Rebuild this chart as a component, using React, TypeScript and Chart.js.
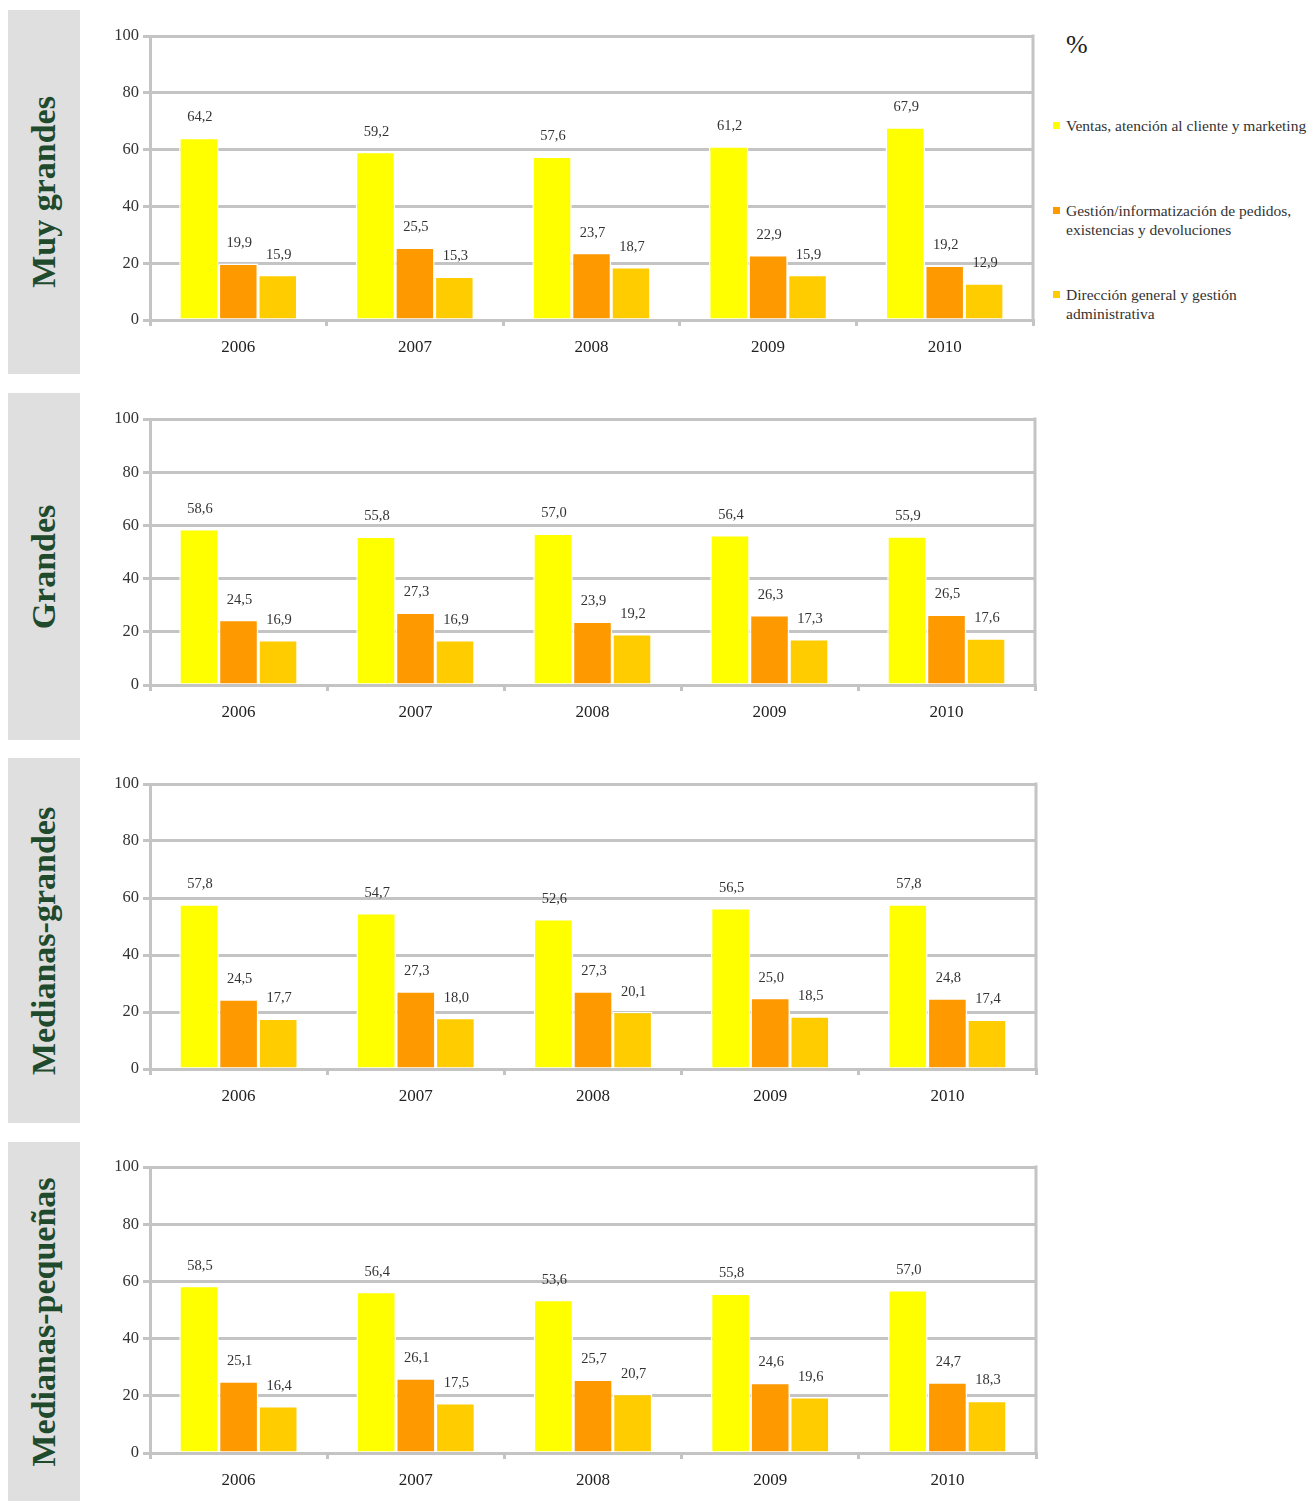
import React, { useEffect, useRef } from "react";
import { Chart, registerables } from "chart.js";

Chart.register(...registerables);

const years = ["2006", "2007", "2008", "2009", "2010"];
const seriesNames = [
  "Ventas, atención al cliente y marketing",
  "Gestión/informatización de pedidos, existencias y devoluciones",
  "Dirección general y gestión administrativa",
];
const legendLines = [
  ["Ventas, atención al cliente y marketing"],
  ["Gestión/informatización de pedidos,", "existencias y devoluciones"],
  ["Dirección general y gestión", "administrativa"],
];
const seriesColors = ["#FFFF00", "#FF9900", "#FFCC00"];
const panelTitles = ["Muy grandes", "Grandes", "Medianas-grandes", "Medianas-pequeñas"];
const yTicks = [0, 20, 40, 60, 80, 100];

const muyGrandesVentas = [64.2, 59.2, 57.6, 61.2, 67.9];
const muyGrandesGestion = [19.9, 25.5, 23.7, 22.9, 19.2];
const muyGrandesDireccion = [15.9, 15.3, 18.7, 15.9, 12.9];

const grandesVentas = [58.6, 55.8, 57.0, 56.4, 55.9];
const grandesGestion = [24.5, 27.3, 23.9, 26.3, 26.5];
const grandesDireccion = [16.9, 16.9, 19.2, 17.3, 17.6];

const medianasGrandesVentas = [57.8, 54.7, 52.6, 56.5, 57.8];
const medianasGrandesGestion = [24.5, 27.3, 27.3, 25.0, 24.8];
const medianasGrandesDireccion = [17.7, 18.0, 20.1, 18.5, 17.4];

const medianasPequenasVentas = [58.5, 56.4, 53.6, 55.8, 57.0];
const medianasPequenasGestion = [25.1, 26.1, 25.7, 24.6, 24.7];
const medianasPequenasDireccion = [16.4, 17.5, 20.7, 19.6, 18.3];

const panelData = [
  [muyGrandesVentas, muyGrandesGestion, muyGrandesDireccion],
  [grandesVentas, grandesGestion, grandesDireccion],
  [medianasGrandesVentas, medianasGrandesGestion, medianasGrandesDireccion],
  [medianasPequenasVentas, medianasPequenasGestion, medianasPequenasDireccion],
];

// layout of each panel (page pixels)
const panelLayout = [
  { top: 10, height: 364, padTop: 26, xH: 54, padRight: 17 },
  { top: 393, height: 347, padTop: 26, xH: 55, padRight: 15 },
  { top: 758, height: 365, padTop: 26, xH: 54, padRight: 14 },
  { top: 1142, height: 359, padTop: 25, xH: 48, padRight: 14 },
];

const FONT = '"Liberation Serif", "Times New Roman", serif';
const GRID = "#c4c4c4";
const CANVAS_LEFT = 86;
const CANVAS_W = 964;
const Y_AXIS_W = 64;

const fmt = (v: number) => v.toFixed(1).replace(".", ",");

const labelsPlugin = {
  id: "barLabels",
  afterDatasetsDraw(chart: any) {
    const ctx = chart.ctx;
    ctx.save();
    ctx.font = `14.5px ${FONT}`;
    ctx.fillStyle = "#333333";
    ctx.textAlign = "center";
    ctx.textBaseline = "middle";
    chart.data.datasets.forEach((ds: any, di: number) => {
      const meta = chart.getDatasetMeta(di);
      meta.data.forEach((el: any, i: number) => {
        ctx.fillText(fmt(ds.data[i]), el.x + 1, el.y - 20);
      });
    });
    ctx.restore();
  },
};

const rightBorderPlugin = {
  id: "rightBorder",
  beforeDatasetsDraw(chart: any) {
    const { ctx, chartArea } = chart;
    ctx.save();
    ctx.strokeStyle = GRID;
    ctx.lineWidth = 3;
    ctx.beginPath();
    ctx.moveTo(chartArea.right, chartArea.top - 1.5);
    ctx.lineTo(chartArea.right, chartArea.bottom);
    ctx.stroke();
    ctx.restore();
  },
};

function Panel({ index }: { index: number }) {
  const ref = useRef<HTMLCanvasElement>(null);
  const lay = panelLayout[index];
  useEffect(() => {
    const chart = new Chart(ref.current as HTMLCanvasElement, {
      type: "bar",
      data: {
        labels: years,
        datasets: panelData[index].map((vals, si) => ({
          label: seriesNames[si],
          data: vals,
          backgroundColor: seriesColors[si],
          borderColor: "#ffffff",
          borderWidth: 1.5,
          categoryPercentage: 0.67,
          barPercentage: 1.0,
        })),
      },
      options: {
        animation: false,
        responsive: false,
        layout: {
          autoPadding: false,
          padding: { top: lay.padTop, right: lay.padRight, left: 0, bottom: 0 },
        },
        plugins: {
          legend: { display: false },
          tooltip: { enabled: false },
        },
        scales: {
          x: {
            grid: {
              drawOnChartArea: false,
              drawTicks: true,
              tickLength: 6,
              color: GRID,
              lineWidth: 3,
            },
            border: { display: true, color: GRID, width: 3 },
            ticks: {
              color: "#222222",
              font: { family: FONT, size: 17 },
              padding: 11,
            },
            afterFit: (s: any) => {
              s.height = lay.xH;
            },
          },
          y: {
            min: 0,
            max: 100,
            afterBuildTicks: (s: any) => {
              s.ticks = yTicks.map((v) => ({ value: v }));
            },
            grid: {
              color: GRID,
              lineWidth: 3,
              drawTicks: true,
              tickLength: 7,
            },
            border: { display: true, color: GRID, width: 3 },
            ticks: {
              color: "#333333",
              font: { family: FONT, size: 16.5 },
              padding: 4,
            },
            afterFit: (s: any) => {
              s.width = Y_AXIS_W;
            },
          },
        },
      },
      plugins: [labelsPlugin, rightBorderPlugin],
    } as any);
    return () => chart.destroy();
  }, [index]);

  return (
    <>
      <div
        style={{
          position: "absolute",
          left: 8,
          top: lay.top,
          width: 72,
          height: lay.height,
          background: "#dfdfdf",
        }}
      >
        <div
          style={{
            position: "absolute",
            left: 36,
            top: lay.height / 2,
            transform: "translate(-50%, -50%) rotate(-90deg)",
            whiteSpace: "nowrap",
            fontFamily: FONT,
            fontWeight: "bold",
            fontSize: 34,
            color: "#1f4a2c",
          }}
        >
          {panelTitles[index]}
        </div>
      </div>
      <canvas
        ref={ref}
        width={CANVAS_W}
        height={lay.height}
        style={{ position: "absolute", left: CANVAS_LEFT, top: lay.top, width: CANVAS_W, height: lay.height }}
      />
    </>
  );
}

function Legend() {
  const tops = [117, 202, 286];
  return (
    <>
      <div
        style={{
          position: "absolute",
          left: 1066,
          top: 30,
          fontFamily: FONT,
          fontSize: 26,
          color: "#222",
          lineHeight: "30px",
        }}
      >
        %
      </div>
      {legendLines.map((lines, i) => (
        <div key={i} style={{ position: "absolute", left: 1053, top: tops[i], width: 258 }}>
          <div
            style={{
              position: "absolute",
              left: 0,
              top: 5,
              width: 7,
              height: 7,
              background: seriesColors[i],
            }}
          />
          <div
            style={{
              position: "absolute",
              left: 13,
              top: 0,
              whiteSpace: "nowrap",
              fontFamily: FONT,
              fontSize: 15.5,
              lineHeight: "18.5px",
              color: "#333",
            }}
          >
            {lines.map((l, j) => (
              <div key={j}>{l}</div>
            ))}
          </div>
        </div>
      ))}
    </>
  );
}

export default function App() {
  return (
    <div
      style={{
        position: "absolute",
        left: 0,
        top: 0,
        width: 1311,
        height: 1501,
        background: "#ffffff",
        overflow: "hidden",
      }}
    >
      {panelTitles.map((_, i) => (
        <Panel key={i} index={i} />
      ))}
      <Legend />
    </div>
  );
}
